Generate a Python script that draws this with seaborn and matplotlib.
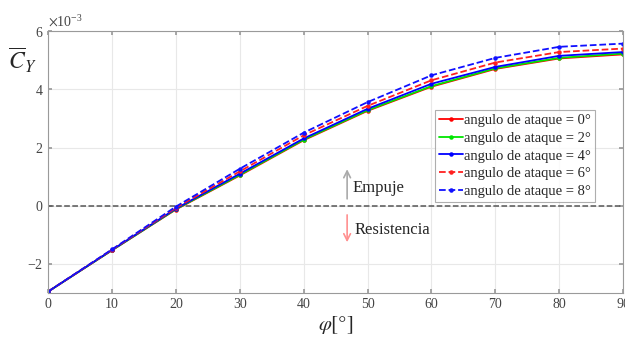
import seaborn as sns
import matplotlib
matplotlib.use('Agg')
import matplotlib.pyplot as plt
import pandas as pd

# datos
phi = [0, 10, 20, 30, 40, 50, 60, 70, 80, 90]
cy_0 = [-2.95, -1.53, -0.13, 1.04, 2.25, 3.26, 4.09, 4.70, 5.06, 5.20]
cy_2 = [-2.95, -1.53, -0.12, 1.06, 2.27, 3.28, 4.11, 4.72, 5.08, 5.23]
cy_4 = [-2.95, -1.52, -0.10, 1.10, 2.31, 3.33, 4.19, 4.77, 5.15, 5.28]
cy_6 = [-2.95, -1.51, -0.07, 1.18, 2.42, 3.43, 4.31, 4.92, 5.28, 5.40]
cy_8 = [-2.95, -1.50, -0.03, 1.27, 2.51, 3.56, 4.48, 5.08, 5.46, 5.57]

series = [
    ('angulo de ataque = 0°', cy_0, '#ff0000', '-'),
    ('angulo de ataque = 2°', cy_2, '#00e600', '-'),
    ('angulo de ataque = 4°', cy_4, '#0000ff', '-'),
    ('angulo de ataque = 6°', cy_6, '#ff2020', '--'),
    ('angulo de ataque = 8°', cy_8, '#1010ff', '--'),
]

sns.set_theme(style='whitegrid', rc={
    'grid.color': '#e8e8e8', 'grid.linewidth': 0.8,
    'axes.edgecolor': '#9a9a9a', 'axes.linewidth': 0.8,
    'xtick.direction': 'in', 'ytick.direction': 'in',
    'xtick.top': True, 'ytick.right': True,
    'xtick.bottom': True, 'ytick.left': True,
    'xtick.major.size': 3, 'ytick.major.size': 3,
    'xtick.color': '#9a9a9a', 'ytick.color': '#9a9a9a',
    'xtick.labelcolor': '#444444', 'ytick.labelcolor': '#444444',
})
plt.rcParams['font.family'] = ['Liberation Serif', 'DejaVu Serif']
plt.rcParams['mathtext.fontset'] = 'stix'

fig = plt.figure(figsize=(6.25, 3.38), dpi=100)
ax = fig.add_axes([0.077, 0.133, 0.92, 0.775])

for name, vals, col, ls in series:
    df = pd.DataFrame({'phi': phi, 'cy': [v * 1e-3 for v in vals]})
    sns.lineplot(data=df, x='phi', y='cy', color=col, linestyle=ls, marker='.',
                 markersize=6.5, markeredgewidth=0, linewidth=1.3, label=name, ax=ax)

ax.axhline(0, color='#555555', linestyle='--', linewidth=1.1, zorder=1)

ax.set_xlim(0, 90)
ax.set_ylim(-3e-3, 6e-3)
ax.set_xticks(range(0, 91, 10))
ax.set_yticks([-2e-3, 0, 2e-3, 4e-3, 6e-3])
ax.ticklabel_format(axis='y', style='sci', scilimits=(0, 0), useMathText=True)
ax.tick_params(labelsize=10)
ax.yaxis.get_offset_text().set_fontsize(10)
ax.yaxis.get_offset_text().set_color('#444444')

ax.set_xlabel(r'$\varphi\left[\degree\right]$', fontsize=15, labelpad=2)
ax.set_ylabel('')
fig.text(0.012, 0.795, r'$\overline{C}_Y$', fontsize=17)

# flechas de empuje / resistencia
ax.annotate('', xy=(46.8, 1.35e-3), xytext=(46.8, 0.14e-3),
            arrowprops=dict(arrowstyle='->', color='#aaaaaa', lw=1.2))
ax.annotate('', xy=(46.8, -1.35e-3), xytext=(46.8, -0.22e-3),
            arrowprops=dict(arrowstyle='->', color='#ff9090', lw=1.2))
ax.text(47.7, 0.6e-3, 'Empuje', fontsize=12, va='center')
ax.text(47.9, -0.82e-3, 'Resistencia', fontsize=12, va='center')

leg = ax.legend(loc='upper left', bbox_to_anchor=(0.696, 0.675),
                bbox_transform=fig.transFigure, fontsize=10.5, frameon=True,
                fancybox=False, handlelength=1.6, handletextpad=0.1,
                labelspacing=0.3, borderpad=0.3, borderaxespad=0)
leg.get_frame().set_edgecolor('#9a9a9a')
leg.get_frame().set_linewidth(0.8)

fig.savefig('out.png', dpi=100)
